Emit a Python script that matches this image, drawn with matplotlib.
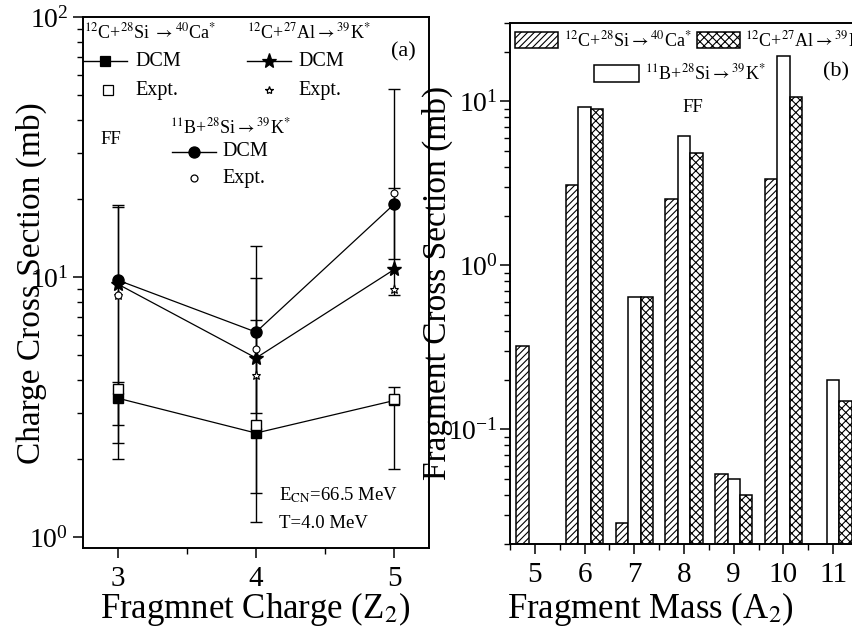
import numpy as np
import matplotlib
matplotlib.use("Agg")
import matplotlib.pyplot as plt
from matplotlib.lines import Line2D
from matplotlib.patches import Rectangle
from matplotlib.ticker import LogLocator, NullFormatter, FixedLocator

plt.rcParams['font.family'] = ['Liberation Serif', 'DejaVu Serif']
plt.rcParams['mathtext.fontset'] = 'stix'
plt.rcParams['hatch.linewidth'] = 0.8

# ---------------- panel (a): charge distribution ----------------
z_charge = [3, 4, 5]

# DCM curves
dcm_si_ca = [3.42, 2.51, 3.35]
dcm_al_k = [9.4, 4.88, 10.7]
dcm_b_k = [9.73, 6.14, 19.1]

# experimental points with lower / upper error limits
expt_si_ca = [3.71, 2.70, 3.39]
expt_si_ca_lo = [2.70, 1.14, 1.83]
expt_si_ca_hi = [3.95, 6.83, 3.77]

expt_al_k = [8.53, 4.2, 9.0]
expt_al_k_lo = [1.99, 1.48, 8.5]
expt_al_k_hi = [18.6, 9.9, 52.8]

expt_b_k = [8.5, 5.29, 21.0]
expt_b_k_lo = [2.30, 3.0, 11.7]
expt_b_k_hi = [18.9, 13.2, 22.0]

# ---------------- panel (b): mass distribution ----------------
a_mass = [5, 6, 7, 8, 9, 10, 11]
xs_si_ca = [0.32, 3.08, 0.0267, 2.53, 0.0533, 3.34, np.nan]
xs_b_k = [np.nan, 9.19, 0.645, 6.12, 0.0499, 18.8, 0.20]
xs_al_k = [np.nan, 8.94, 0.637, 4.82, 0.0397, 10.6, 0.148]

W, H = 852, 639
fig = plt.figure(figsize=(W / 100, H / 100), dpi=100)


def fx(px):
    return px / W


def fy(py):
    return 1 - py / H


def ax_rect(x0, y_top, x1, y_bot):
    return [fx(x0), fy(y_bot), (x1 - x0) / W, (y_bot - y_top) / H]


ax1 = fig.add_axes(ax_rect(83, 17, 429, 548))
ax2 = fig.add_axes(ax_rect(510, 23, 858, 544))

lw_data = 0.9
for a in (ax1, ax2):
    for s in a.spines.values():
        s.set_linewidth(1.4)

# ---- panel (a) drawing ----
ax1.set_yscale('log')


def draw_err(x, y, lo, hi):
    y = np.asarray(y)
    yerr = np.vstack([y - np.asarray(lo), np.asarray(hi) - y])
    ax1.errorbar(x, y, yerr=yerr, fmt='none', ecolor='black', elinewidth=1.0,
                 capsize=4.5, capthick=1.0, zorder=2)


draw_err(z_charge, expt_si_ca, expt_si_ca_lo, expt_si_ca_hi)
draw_err(z_charge, expt_al_k, expt_al_k_lo, expt_al_k_hi)
draw_err(z_charge, expt_b_k, expt_b_k_lo, expt_b_k_hi)

ax1.plot(z_charge, dcm_si_ca, '-', color='black', lw=lw_data, marker='s', ms=7.5,
         mfc='black', mec='black', zorder=3)
ax1.plot(z_charge, dcm_al_k, '-', color='black', lw=lw_data, marker='*', ms=11,
         mfc='black', mec='black', zorder=3)
ax1.plot(z_charge, dcm_b_k, '-', color='black', lw=lw_data, marker='o', ms=8,
         mfc='black', mec='black', zorder=3)

ax1.plot(z_charge, expt_si_ca, 's', ms=7.5, mfc='white', mec='black', mew=1.0, zorder=4)
ax1.plot(z_charge, expt_al_k, '*', ms=6.5, mfc='white', mec='black', mew=0.8, zorder=4)
ax1.plot(z_charge, expt_b_k, 'o', ms=5, mfc='white', mec='black', mew=0.8, zorder=4)

ax1.set_xlim(2.75, 5.25)
ax1.set_ylim(0.907, 100)
ax1.set_xticks([3, 4, 5])
ax1.xaxis.set_minor_locator(FixedLocator([3.5, 4.5]))
ax1.yaxis.set_major_locator(LogLocator(base=10, numticks=10))
ax1.yaxis.set_minor_locator(LogLocator(base=10, subs=np.arange(2, 10), numticks=20))
ax1.yaxis.set_minor_formatter(NullFormatter())
ax1.tick_params(axis='both', which='major', direction='out', length=7, width=1.1,
                labelsize=20)
ax1.tick_params(axis='both', which='minor', direction='out', length=4, width=1.0)
ax1.tick_params(axis='x', labelsize=21, pad=6)

fig.text(fx(255), fy(609), r'Fragmnet Charge (Z$_2$)', fontsize=25,
         ha='center', va='center')
fig.text(fx(31), fy(283), 'Charge Cross Section (mb)', fontsize=24,
         ha='center', va='center', rotation=90)

# legend block of panel (a)
leg_fs = 14.5
rx_fs = 13


def legend_line(xc, yc, marker, ms, filled=True, with_line=True, half=22):
    if with_line:
        fig.add_artist(Line2D([fx(xc - half), fx(xc + half)], [fy(yc), fy(yc)],
                              color='black', lw=1.0))
    fig.add_artist(Line2D([fx(xc)], [fy(yc)], marker=marker, ms=ms, lw=0,
                          mfc='black' if filled else 'white', mec='black',
                          mew=0.9))


fig.text(fx(84), fy(32), r'$^{12}$C+$^{28}$Si $\rightarrow$$^{40}$Ca$^{*}$',
         fontsize=rx_fs, ha='left', va='center')
legend_line(105, 61, 's', 7.5)
fig.text(fx(135), fy(61), 'DCM', fontsize=leg_fs, ha='left', va='center')
legend_line(108, 90, 's', 6.5, filled=False, with_line=False)
fig.text(fx(135), fy(90), 'Expt.', fontsize=leg_fs, ha='left', va='center')

fig.text(fx(247), fy(32), r'$^{12}$C+$^{27}$Al$\rightarrow$$^{39}$K$^{*}$',
         fontsize=rx_fs, ha='left', va='center')
legend_line(269, 61, '*', 11)
fig.text(fx(298), fy(61), 'DCM', fontsize=leg_fs, ha='left', va='center')
legend_line(269, 90, '*', 6, filled=False, with_line=False)
fig.text(fx(298), fy(90), 'Expt.', fontsize=leg_fs, ha='left', va='center')

fig.text(fx(403), fy(52), '(a)', fontsize=16, ha='center', va='center')

fig.text(fx(170), fy(127), r'$^{11}$B+$^{28}$Si$\rightarrow$$^{39}$K$^{*}$',
         fontsize=rx_fs, ha='left', va='center')
legend_line(194, 152, 'o', 8)
fig.text(fx(222), fy(152), 'DCM', fontsize=leg_fs, ha='left', va='center')
legend_line(194, 178, 'o', 5, filled=False, with_line=False)
fig.text(fx(222), fy(178), 'Expt.', fontsize=leg_fs, ha='left', va='center')

fig.text(fx(100), fy(139), 'FF', fontsize=13.5, ha='left', va='center')
fig.text(fx(279), fy(495), r'E$_{\mathrm{CN}}$=66.5 MeV', fontsize=13.5,
         ha='left', va='center')
fig.text(fx(279), fy(523), 'T=4.0 MeV', fontsize=13.5, ha='left', va='center')

# ---- panel (b) drawing ----
ax2.set_yscale('log')
a_arr = np.array(a_mass, dtype=float)
bw = 0.25
bar_kw = dict(width=bw, edgecolor='black', linewidth=1.1, color='white', log=True)
ax2.bar(a_arr - bw, xs_si_ca, hatch='/////', **bar_kw)
ax2.bar(a_arr, xs_b_k, **bar_kw)
ax2.bar(a_arr + bw, xs_al_k, hatch='xxxx', **bar_kw)

ax2.set_xlim(4.5, 11.5)
ax2.set_ylim(0.02, 30)
ax2.set_xticks(a_mass)
ax2.xaxis.set_minor_locator(FixedLocator(np.arange(4.5, 11.6, 1.0)))
ax2.yaxis.set_major_locator(LogLocator(base=10, numticks=10))
ax2.yaxis.set_minor_locator(LogLocator(base=10, subs=np.arange(2, 10), numticks=20))
ax2.yaxis.set_minor_formatter(NullFormatter())
ax2.tick_params(axis='both', which='major', direction='out', length=7, width=1.1,
                labelsize=20)
ax2.tick_params(axis='both', which='minor', direction='out', length=4, width=1.0)
ax2.tick_params(axis='x', labelsize=21, pad=6)
ax2.tick_params(axis='y', pad=2)

fig.text(fx(650), fy(609), r'Fragment Mass (A$_2$)', fontsize=25,
         ha='center', va='center')
fig.text(fx(437), fy(283), 'Fragment Cross Section (mb)', fontsize=24,
         ha='center', va='center', rotation=90)


def legend_box(x0, y0, x1, y1, hatch=None):
    fig.add_artist(Rectangle((fx(x0), fy(y1)), (x1 - x0) / W, (y1 - y0) / H,
                             facecolor='white', edgecolor='black', lw=1.1,
                             hatch=hatch, transform=fig.transFigure))


legend_box(515, 32, 558, 48, hatch='/////')
fig.text(fx(564), fy(40), r'$^{12}$C+$^{28}$Si$\rightarrow$$^{40}$Ca$^{*}$',
         fontsize=rx_fs, ha='left', va='center')
legend_box(697, 32, 740, 48, hatch='xxxx')
fig.text(fx(745), fy(40), r'$^{12}$C+$^{27}$Al$\rightarrow$$^{39}$K$^{*}$',
         fontsize=rx_fs, ha='left', va='center')
legend_box(594, 65, 639, 82)
fig.text(fx(645), fy(73), r'$^{11}$B+$^{28}$Si$\rightarrow$$^{39}$K$^{*}$',
         fontsize=rx_fs, ha='left', va='center')
fig.text(fx(836), fy(72), '(b)', fontsize=16, ha='center', va='center')
fig.text(fx(693), fy(108), 'FF', fontsize=13.5, ha='center', va='center')

fig.savefig('out.png', dpi=100)
